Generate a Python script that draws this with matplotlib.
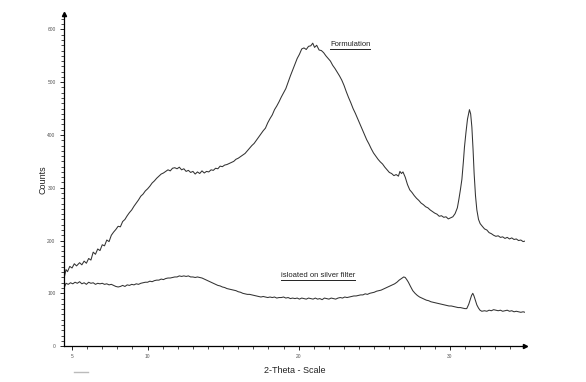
import matplotlib

matplotlib.use("Agg")

import matplotlib.pyplot as plt
from matplotlib.lines import Line2D
from matplotlib.ticker import MultipleLocator

# (2-theta in degrees, counts)
formulation_theta = [
    4.50, 4.60, 4.70, 4.85, 5.00, 5.15, 5.30, 5.50, 5.65, 5.80, 5.95, 6.10, 6.25, 6.40, 6.55,
    6.70, 6.85, 7.00, 7.15, 7.30, 7.45, 7.60, 7.75, 7.90, 8.05, 8.20, 8.35, 8.50, 8.65, 8.80,
    8.95, 9.10, 9.25, 9.40, 9.55, 9.70, 9.85, 10.00, 10.15, 10.30, 10.45, 10.60, 10.75, 10.90,
    11.05, 11.20, 11.35, 11.50, 11.65, 11.80, 11.95, 12.10, 12.25, 12.40, 12.55, 12.70, 12.85,
    13.00, 13.15, 13.30, 13.45, 13.60, 13.75, 13.90, 14.05, 14.20, 14.35, 14.50, 14.65, 14.80,
    14.95, 15.10, 15.25, 15.40, 15.55, 15.70, 15.85, 16.00, 16.15, 16.30, 16.45, 16.60, 16.75,
    16.90, 17.05, 17.20, 17.35, 17.50, 17.65, 17.80, 17.95, 18.10, 18.25, 18.40, 18.55, 18.70,
    18.85, 19.00, 19.15, 19.30, 19.45, 19.60, 19.75, 19.90, 20.05, 20.20, 20.35, 20.50, 20.65,
    20.80, 20.93, 21.05, 21.19, 21.35, 21.50, 21.65, 21.80, 21.95, 22.10, 22.25, 22.40, 22.55,
    22.70, 22.85, 23.00, 23.15, 23.30, 23.45, 23.60, 23.75, 23.90, 24.05, 24.20, 24.35, 24.50,
    24.65, 24.80, 24.95, 25.10, 25.25, 25.40, 25.55, 25.70, 25.85, 26.00, 26.15, 26.30, 26.45,
    26.60, 26.70, 26.80, 26.90, 27.05, 27.20, 27.35, 27.50, 27.65, 27.80, 27.95, 28.10, 28.25,
    28.40, 28.55, 28.70, 28.85, 29.00, 29.15, 29.30, 29.45, 29.60, 29.75, 29.90, 30.05, 30.20,
    30.35, 30.50, 30.60, 30.70, 30.80, 30.90, 30.97, 31.07, 31.17, 31.25, 31.30, 31.38, 31.46,
    31.54, 31.61, 31.70, 31.79, 31.90, 32.01, 32.15, 32.30, 32.45, 32.60, 32.75, 32.90, 33.05,
    33.20, 33.35, 33.50, 33.65, 33.80, 33.95, 34.10, 34.25, 34.40, 34.55, 34.70, 34.85, 34.98,
]
formulation_counts = [
    132, 145, 141, 151, 148, 156, 152, 158, 154, 161, 157, 166, 163, 178, 174,
    184, 181, 192, 190, 201, 198, 210, 216, 221, 227, 226, 236, 240, 247, 253,
    258, 265, 271, 277, 284, 288, 294, 298, 303, 309, 313, 318, 322, 326,
    328, 331, 334, 332, 337, 338, 336, 339, 334, 336, 331, 333, 329,
    331, 326, 330, 327, 332, 328, 331, 330, 334, 333, 337, 336, 341,
    340, 343, 344, 346, 348, 350, 354, 356, 359, 362, 365, 370, 375,
    380, 384, 390, 396, 402, 408, 413, 423, 431, 438, 448, 455, 463,
    472, 480, 488, 500, 512, 523, 534, 545, 553, 563, 565, 562, 568,
    569, 574, 566, 570, 561, 560, 556, 550, 545, 540, 532, 526, 519,
    512, 504, 494, 482, 471, 461, 450, 441, 431, 421, 411, 401, 391,
    383, 374, 366, 360, 354, 349, 345, 339, 334, 329, 327, 323, 325,
    322, 331, 327, 330, 320, 306, 296, 291, 285, 280, 276, 271, 268,
    264, 262, 258, 255, 252, 250, 246, 247, 244, 245, 241, 243, 245,
    251, 262, 278, 296, 316, 350, 377, 405, 430, 441, 448, 440, 415,
    372, 327, 285, 258, 240, 232, 227, 222, 220, 215, 213, 210, 208,
    209, 206, 207, 204, 206, 203, 205, 202, 203, 200, 201, 198, 199,
]

filter_theta = [
    4.50, 4.60, 4.75, 4.90, 5.05, 5.20, 5.35, 5.50, 5.65, 5.80, 5.95, 6.10, 6.25, 6.40, 6.55,
    6.70, 6.85, 7.00, 7.15, 7.30, 7.45, 7.60, 7.75, 7.90, 8.05, 8.20, 8.35, 8.50, 8.65, 8.80,
    8.95, 9.10, 9.25, 9.40, 9.55, 9.70, 9.85, 10.00, 10.15, 10.30, 10.45, 10.60, 10.75, 10.90,
    11.05, 11.20, 11.35, 11.50, 11.65, 11.80, 11.95, 12.10, 12.25, 12.40, 12.55, 12.70, 12.85,
    13.00, 13.15, 13.30, 13.45, 13.60, 13.75, 13.90, 14.05, 14.20, 14.35, 14.50, 14.65, 14.80,
    14.95, 15.10, 15.25, 15.40, 15.55, 15.70, 15.85, 16.00, 16.15, 16.30, 16.45, 16.60, 16.75,
    16.90, 17.05, 17.20, 17.35, 17.50, 17.65, 17.80, 17.95, 18.10, 18.25, 18.40, 18.55, 18.70,
    18.85, 19.00, 19.15, 19.30, 19.45, 19.60, 19.75, 19.90, 20.05, 20.20, 20.35, 20.50, 20.65,
    20.80, 20.95, 21.10, 21.25, 21.40, 21.55, 21.70, 21.85, 22.00, 22.15, 22.30, 22.45, 22.60,
    22.75, 22.90, 23.05, 23.20, 23.35, 23.50, 23.65, 23.80, 23.95, 24.10, 24.25, 24.40, 24.55,
    24.70, 24.85, 25.00, 25.15, 25.30, 25.45, 25.60, 25.75, 25.90, 26.05, 26.20, 26.35, 26.50,
    26.65, 26.80, 26.95, 27.05, 27.15, 27.26, 27.40, 27.55, 27.70, 27.85, 28.00, 28.15, 28.30,
    28.45, 28.60, 28.75, 28.90, 29.05, 29.20, 29.35, 29.50, 29.65, 29.80, 29.95, 30.10, 30.25,
    30.40, 30.55, 30.70, 30.85, 31.00, 31.12, 31.25, 31.34, 31.44, 31.52, 31.60, 31.70, 31.79,
    31.90, 32.00, 32.12, 32.30, 32.45, 32.60, 32.75, 32.90, 33.05, 33.20, 33.35, 33.50, 33.65,
    33.80, 33.95, 34.10, 34.25, 34.40, 34.55, 34.70, 34.85, 34.98,
]
filter_counts = [
    112, 119, 117, 120, 118, 121, 119, 122, 118, 120, 117, 121, 119, 120, 117,
    119, 118, 119, 117, 118, 116, 117, 115, 113, 112, 113, 115, 113, 116, 115,
    117, 116, 118, 117, 119, 120, 121, 121, 123, 122, 124, 125, 125, 127,
    126, 128, 129, 129, 130, 131, 131, 133, 132, 133, 132, 133, 131,
    131, 130, 131, 130, 129, 127, 125, 123, 121, 119, 117, 115, 114,
    112, 111, 109, 108, 107, 106, 105, 103, 102, 100, 99, 98, 98,
    97, 96, 95, 94, 93, 94, 93, 92, 93, 92, 93, 91, 92,
    92, 93, 91, 92, 90, 91, 90, 91, 89, 91, 90, 89, 91,
    90, 89, 91, 89, 90, 88, 91, 90, 89, 91, 90, 89, 91,
    92, 91, 93, 92, 93, 94, 95, 95, 96, 97, 97, 99, 98,
    100, 101, 102, 104, 105, 106, 108, 110, 112, 114, 116, 118, 121,
    125, 128, 131, 130, 126, 121, 113, 105, 100, 96, 93, 91, 89,
    87, 86, 84, 83, 82, 81, 80, 79, 78, 77, 76, 76, 75,
    74, 73, 73, 72, 71, 71, 79, 87, 96, 100, 95, 86, 78,
    72, 68, 66, 67, 66, 68, 67, 69, 68, 67, 68, 66, 67,
    68, 66, 67, 65, 66, 65, 64, 65, 64,
]

x_tick_values = [5, 10, 20, 30]
y_tick_values = [0, 100, 200, 300, 400, 500, 600]

LINE_COLOR = "#333333"
TEXT_COLOR = "#222222"


def add_underlined_label(fig, ax, x, y, text):
    label = ax.text(x, y, text, fontsize=5.5, color=TEXT_COLOR, ha="center", va="center")
    fig.canvas.draw()
    box = label.get_window_extent().transformed(fig.transFigure.inverted())
    fig.add_artist(
        Line2D([box.x0, box.x1], [box.y0 - 0.004, box.y0 - 0.004], color=TEXT_COLOR, lw=0.7)
    )


def main():
    plt.rcParams["font.family"] = ["Liberation Sans", "DejaVu Sans"]

    fig = plt.figure(figsize=(5.86, 3.82), dpi=100)
    ax = fig.add_axes([0.109, 0.094, 0.787, 0.869])

    ax.plot(formulation_theta, formulation_counts, color=LINE_COLOR, lw=0.75)
    ax.plot(filter_theta, filter_counts, color=LINE_COLOR, lw=0.75)

    ax.set_xlim(4.46, 34.98)
    ax.set_ylim(0, 629)

    for side in ("top", "right"):
        ax.spines[side].set_visible(False)
    for side in ("left", "bottom"):
        ax.spines[side].set_linewidth(0.9)

    ax.set_xticks(x_tick_values)
    ax.set_yticks(y_tick_values)
    ax.xaxis.set_minor_locator(MultipleLocator(1))
    ax.yaxis.set_minor_locator(MultipleLocator(10))
    ax.tick_params(which="major", length=3, width=0.6, labelsize=3.5, labelcolor="#555555", pad=3)
    ax.tick_params(which="minor", length=2, width=0.5)

    # arrow tips at the axis ends
    ax.plot(0, 1, marker="^", ms=3, color="black", transform=ax.transAxes, clip_on=False)
    ax.plot(1, 0, marker=">", ms=3, color="black", transform=ax.transAxes, clip_on=False)

    ax.set_ylabel("Counts", fontsize=6.5, color=TEXT_COLOR, labelpad=0)
    ax.set_xlabel("2-Theta - Scale", fontsize=6.5, color=TEXT_COLOR, labelpad=5)

    add_underlined_label(fig, ax, 23.4, 572, "Formulation")
    add_underlined_label(fig, ax, 21.3, 134, "isloated on silver filter")

    # small grey mark under the axis, as in the scanned original
    fig.add_artist(Line2D([74 / 586, 88 / 586], [1 - 372 / 382, 1 - 372 / 382], color="#bbbbbb", lw=1))

    fig.savefig("out.png", dpi=100)
    plt.close(fig)


if __name__ == "__main__":
    main()
